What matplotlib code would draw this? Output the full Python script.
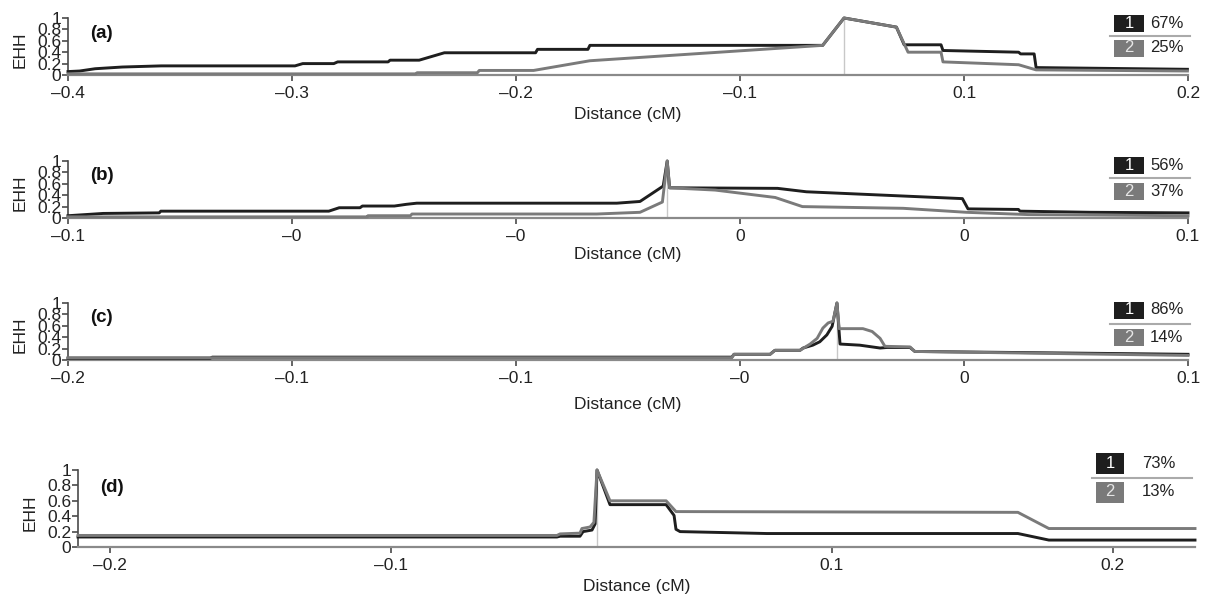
import matplotlib
matplotlib.use("Agg")  # headless
import matplotlib.pyplot as plt
import numpy as np
from matplotlib.lines import Line2D
from matplotlib.patches import Rectangle

plt.rcParams['font.family'] = ['Liberation Sans', 'DejaVu Sans']

# ---- EHH decay around the core SNP (x = distance in cM, core at 0) ----
A_X1 = [-0.400, -0.394, -0.386, -0.372, -0.352, -0.283, -0.279, -0.263, -0.261, -0.235,
        -0.234, -0.219, -0.206, -0.159, -0.158, -0.132, -0.131, -0.011, 0.0, 0.027,
        0.031, 0.050, 0.051, 0.090, 0.091, 0.098, 0.099, 0.177]
A_Y1 = [0.06, 0.07, 0.11, 0.14, 0.16, 0.16, 0.20, 0.20, 0.23, 0.23,
        0.26, 0.26, 0.39, 0.39, 0.45, 0.45, 0.52, 0.52, 1.00, 0.84,
        0.53, 0.53, 0.43, 0.40, 0.37, 0.37, 0.13, 0.10]
A_X2 = [-0.400, -0.221, -0.220, -0.189, -0.188, -0.160, -0.131, -0.011, 0.0, 0.027,
        0.033, 0.050, 0.051, 0.090, 0.099, 0.177]
A_Y2 = [0.02, 0.02, 0.04, 0.04, 0.08, 0.08, 0.25, 0.52, 1.00, 0.84,
        0.40, 0.40, 0.23, 0.18, 0.09, 0.07]

B_X1 = [-0.0749, -0.0705, -0.0635, -0.0633, -0.0423, -0.0410, -0.0384, -0.0381, -0.0341, -0.0326,
        -0.0313, -0.0063, -0.0034, -0.0005, 0.0, 0.0003, 0.0138, 0.0174, 0.0369, 0.0376,
        0.0439, 0.0441, 0.0529, 0.0651]
B_Y1 = [0.04, 0.08, 0.09, 0.12, 0.12, 0.18, 0.18, 0.21, 0.21, 0.24,
        0.26, 0.26, 0.29, 0.56, 1.00, 0.53, 0.52, 0.46, 0.34, 0.16,
        0.15, 0.12, 0.10, 0.09]
B_X2 = [-0.0749, -0.0375, -0.0374, -0.0321, -0.0319, -0.0088, -0.0034, -0.0006, 0.0, 0.0003,
        0.0060, 0.0135, 0.0169, 0.0295, 0.0374, 0.0451, 0.0651]
B_Y2 = [0.02, 0.02, 0.04, 0.04, 0.07, 0.07, 0.10, 0.28, 1.00, 0.53,
        0.49, 0.36, 0.20, 0.17, 0.10, 0.06, 0.04]

C_X1 = [-0.1748, -0.1425, -0.1420, -0.0239, -0.0234, -0.0152, -0.0141, -0.0084, -0.0077, -0.0055,
        -0.0039, -0.0023, -0.0011, 0.0, 0.0007, 0.0052, 0.0098, 0.0114, 0.0166, 0.0177, 0.0798]
C_Y1 = [0.03, 0.03, 0.05, 0.05, 0.10, 0.10, 0.17, 0.17, 0.21, 0.26,
        0.32, 0.44, 0.59, 1.00, 0.28, 0.26, 0.21, 0.22, 0.22, 0.15, 0.10]
C_X2 = [-0.1748, -0.0239, -0.0234, -0.0152, -0.0141, -0.0084, -0.0061, -0.0045, -0.0032, -0.0020,
        -0.0009, 0.0, 0.0005, 0.0059, 0.0080, 0.0098, 0.0109, 0.0166, 0.0177, 0.0798]
C_Y2 = [0.04, 0.04, 0.10, 0.10, 0.17, 0.17, 0.28, 0.38, 0.56, 0.65,
        0.68, 1.00, 0.55, 0.55, 0.50, 0.38, 0.24, 0.23, 0.15, 0.08]

D_X1 = [-0.2163, -0.0167, -0.0154, -0.0071, -0.0058, -0.0021, -0.0008, 0.0, 0.0054, 0.0288,
        0.0321, 0.0329, 0.0346, 0.0708, 0.1754, 0.1883, 0.2492]
D_Y1 = [0.13, 0.13, 0.14, 0.14, 0.20, 0.22, 0.30, 1.00, 0.55, 0.55,
        0.41, 0.23, 0.20, 0.175, 0.175, 0.09, 0.09]
D_X2 = [-0.2163, -0.0167, -0.0154, -0.0071, -0.0063, -0.0029, -0.0013, 0.0, 0.0054, 0.0288,
        0.0329, 0.1754, 0.1883, 0.2492]
D_Y2 = [0.15, 0.15, 0.17, 0.18, 0.24, 0.26, 0.32, 1.00, 0.60, 0.60,
        0.46, 0.45, 0.24, 0.24]

X1 = [A_X1, B_X1, C_X1, D_X1]
Y1 = [A_Y1, B_Y1, C_Y1, D_Y1]
X2 = [A_X2, B_X2, C_X2, D_X2]
Y2 = [A_Y2, B_Y2, C_Y2, D_Y2]

XLIMS = [(-0.400, 0.1773), (-0.0749, 0.0651), (-0.1748, 0.0798), (-0.2163, 0.2492)]
XTICKS = [np.linspace(-0.400, 0.1773, 6), np.linspace(-0.0749, 0.0651, 6),
          np.linspace(-0.1748, 0.0798, 6), [-0.2029, -0.0858, 0.0979, 0.2150]]
XTICKLABELS = [['–0.4', '–0.3', '–0.2', '–0.1', '0.1', '0.2'],
               ['–0.1', '–0', '–0', '0', '0', '0.1'],
               ['–0.2', '–0.1', '–0.1', '–0', '0', '0.1'],
               ['–0.2', '–0.1', '0.1', '0.2']]
YTICKS = [0, 0.2, 0.4, 0.6, 0.8, 1]
YTICKLABELS = ['0', '0.2', '0.4', '0.6', '0.8', '1']

PANEL_LABELS = ['(a)', '(b)', '(c)', '(d)']
PCT_1 = ['67%', '56%', '86%', '73%']
PCT_2 = ['25%', '37%', '14%', '13%']

COL_1 = '#1e1e1e'
COL_2 = '#7a7a7a'
CORE_COL = '#c8c8c8'
AXIS_COL = '#4a4a4a'
TXT_COL = '#222222'

W, H = 1210, 596
# axes boxes in pixels: left, top, right, bottom
AX_PX = [(68, 18, 1188, 75), (68, 161, 1188, 218), (68, 303, 1188, 360), (78, 470, 1195, 547)]
# distance of the "Distance (cM)" label below each axis, and of the panel letter below the top
XLAB_DY = [39, 37, 45, 39]
TAG_DY = [15, 15, 15, 18]
# legend layout in pixels: box x, box w, box h, row1 y, row2 y, separator x0, x1, text x
LEG_PX = [(1114, 30, 17, 23, 48, 1110, 1190, 1150),
          (1114, 30, 17, 165, 191, 1110, 1190, 1150),
          (1114, 30, 17, 310, 337, 1110, 1190, 1150),
          (1096, 28, 21, 463, 492, 1092, 1192, 1142)]

fig = plt.figure(figsize=(W / 100, H / 100), dpi=100)


def fx(x):
    return x / W


def fy(y):
    return 1 - y / H


for i, (l, t, r, b) in enumerate(AX_PX):
    ax = fig.add_axes([fx(l), fy(b), (r - l) / W, (b - t) / H])
    hpx, wpx = b - t, r - l
    ax.plot([0, 0], [0, 1], color=CORE_COL, lw=1.0, zorder=1)
    ax.plot(X1[i], Y1[i], color=COL_1, lw=2.1, clip_on=False, zorder=3)
    ax.plot(X2[i], Y2[i], color=COL_2, lw=2.1, clip_on=False, zorder=4)
    ax.set_xlim(XLIMS[i])
    ax.set_ylim(0, 1)
    ax.set_xticks(XTICKS[i])
    ax.set_xticklabels(XTICKLABELS[i])
    ax.set_yticks(YTICKS)
    ax.set_yticklabels(YTICKLABELS)
    for s in ['top', 'right']:
        ax.spines[s].set_visible(False)
    ax.spines['left'].set_color(AXIS_COL)
    ax.spines['left'].set_linewidth(1.2)
    ax.spines['bottom'].set_color('#8a8a8a')
    ax.spines['bottom'].set_linewidth(1.6)
    ax.tick_params(axis='x', direction='out', length=4, width=1.2, color=AXIS_COL,
                   labelsize=12.5, pad=4, labelcolor=TXT_COL)
    ax.tick_params(axis='y', direction='out', length=4, width=1.2, color=AXIS_COL,
                   labelsize=12.5, pad=1, labelcolor=TXT_COL)
    ax.set_ylabel('EHH', fontsize=12.5, color=TXT_COL)
    ax.yaxis.set_label_coords(-48 / wpx, 0.45)
    ax.yaxis.label.set_va('center')
    ax.set_xlabel('Distance (cM)', fontsize=12.5, color=TXT_COL)
    ax.xaxis.set_label_coords(0.5, -XLAB_DY[i] / hpx)
    ax.xaxis.label.set_va('center')
    ax.text(22 / wpx, 1 - TAG_DY[i] / hpx, PANEL_LABELS[i], transform=ax.transAxes,
            fontsize=13.5, fontweight='bold', ha='left', va='center', color='#111111')

    bx, bw, bh, r1, r2, sx0, sx1, tx = LEG_PX[i]
    for cy, col, num, pct, ncol in [(r1, COL_1, '1', PCT_1[i], 'white'),
                                    (r2, COL_2, '2', PCT_2[i], '#e6e6e6')]:
        fig.add_artist(Rectangle((fx(bx), fy(cy + bh / 2)), bw / W, bh / H,
                                 transform=fig.transFigure, facecolor=col, edgecolor='none'))
        fig.text(fx(bx + bw / 2), fy(cy), num, ha='center', va='center', fontsize=12, color=ncol)
        fig.text(fx(tx), fy(cy), pct, ha='left', va='center', fontsize=12, color=TXT_COL)
    sy = (r1 + r2) / 2
    fig.add_artist(Line2D([fx(sx0), fx(sx1)], [fy(sy), fy(sy)], transform=fig.transFigure,
                          color='#aaaaaa', lw=1.5))

fig.savefig('out.png', dpi=100)
